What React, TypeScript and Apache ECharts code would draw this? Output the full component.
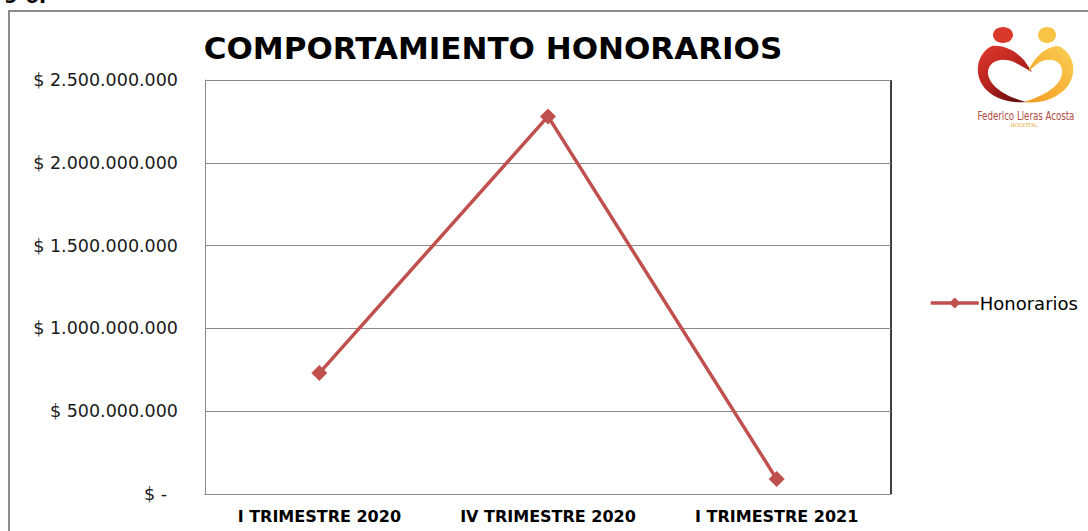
import React, { useEffect, useRef } from "react";
import * as echarts from "echarts";

const categories = ["I TRIMESTRE 2020", "IV TRIMESTRE 2020", "I TRIMESTRE 2021"];
const honorarios = [730000000, 2280000000, 90000000];
const seriesName = "Honorarios";
const titleText = "COMPORTAMIENTO HONORARIOS";
const yMin = 0;
const yMax = 2500000000;
const yInterval = 500000000;

const redPath =
  "M 992 46 C 975 54 972 80 990 93 C 1000 101 1015 103 1026 102 C 1010 98 990 88 988 74 C 987 62 1000 56 1014 62 L 1032 72 L 1024 60 C 1015 50 1003 45 992 46 Z";
const yellowPath =
  "M 1058 46 C 1075 52 1080 78 1062 92 C 1052 100 1038 104 1024 102 C 1040 97 1060 88 1062 74 C 1064 62 1052 56 1040 62 C 1034 66 1030 70 1028 72 C 1032 62 1042 47 1058 46 Z";

let registered = false;
function registerShapes() {
  if (registered) return;
  echarts.graphic.registerShape("logoRed", echarts.graphic.extendPath(redPath, {}) as any);
  echarts.graphic.registerShape("logoYellow", echarts.graphic.extendPath(yellowPath, {}) as any);
  registered = true;
}

function fmtMoney(v: number): string {
  if (v === 0) return "{z|$ -}";
  const s = Math.round(v).toString().replace(/\B(?=(\d{3})+(?!\d))/g, ".");
  return "$ " + s;
}

export default function App() {
  const ref = useRef<HTMLDivElement>(null);
  useEffect(() => {
    if (!ref.current) return;
    registerShapes();
    const chart = echarts.init(ref.current, null, { renderer: "svg" });
    const font = "DejaVu Sans";
    chart.setOption({
      animation: false,
      backgroundColor: "#ffffff",
      title: {
        text: titleText,
        left: 488,
        top: 27,
        textAlign: "center",
        textStyle: { fontFamily: font, fontWeight: "bold", fontSize: 31, color: "#000000" },
      },
      legend: {
        data: [seriesName],
        left: 924,
        top: 289,
        itemWidth: 48,
        itemHeight: 14,
        itemGap: 4,
        lineStyle: { width: 3.5 },
        textStyle: { fontFamily: font, fontSize: 18, color: "#000000", padding: [0, 0, 0, -4] },
      },
      grid: { left: 205, right: 197, top: 80, bottom: 37, containLabel: false },
      xAxis: {
        type: "category",
        data: categories,
        boundaryGap: true,
        axisLine: { show: true, lineStyle: { color: "#8a8a8a", width: 1 } },
        axisTick: { show: false },
        axisLabel: {
          interval: 0,
          hideOverlap: false,
          margin: 14,
          fontFamily: font,
          fontWeight: "bold",
          fontSize: 16,
          color: "#000000",
        },
      },
      yAxis: {
        type: "value",
        min: yMin,
        max: yMax,
        interval: yInterval,
        axisLine: { show: true, lineStyle: { color: "#8a8a8a", width: 1 } },
        axisTick: { show: false },
        splitLine: { show: true, lineStyle: { color: "#8a8a8a", width: 1 } },
        axisLabel: {
          margin: 27,
          fontFamily: font,
          fontSize: 17.5,
          color: "#1a1a1a",
          formatter: fmtMoney,
          rich: { z: { fontFamily: font, fontSize: 17.5, color: "#1a1a1a", padding: [0, 11, 0, 0] } },
        },
      },
      series: [
        {
          name: seriesName,
          type: "line",
          data: honorarios,
          symbol: "diamond",
          symbolSize: 16,
          lineStyle: { color: "#C0504D", width: 3.5 },
          itemStyle: { color: "#C0504D" },
        },
      ],
      graphic: [
        {
          type: "rect",
          shape: { x: 9, y: 11, width: 1200, height: 700 },
          style: { fill: "none", stroke: "#8c8c8c", lineWidth: 2 },
          silent: true,
        },
        {
          type: "line",
          shape: { x1: 891, y1: 80, x2: 891, y2: 494 },
          style: { stroke: "#000000", lineWidth: 1.5 },
          silent: true,
        },
        {
          type: "text",
          x: 4,
          y: -14,
          style: { text: "9 6.", fontFamily: font, fontWeight: "bold", fontSize: 20, fill: "#000000" },
          silent: true,
        },
        {
          type: "logoRed",
          x: 0,
          y: 0,
          style: {
            fill: new echarts.graphic.LinearGradient(0, 0, 0.6, 1, [
              { offset: 0, color: "#e03a2c" },
              { offset: 0.6, color: "#b5221f" },
              { offset: 1, color: "#6e1212" },
            ]),
          },
          silent: true,
        },
        {
          type: "logoYellow",
          x: 0,
          y: 0,
          style: {
            fill: new echarts.graphic.LinearGradient(1, 0, 0, 1, [
              { offset: 0, color: "#fbcf55" },
              { offset: 1, color: "#f29a1f" },
            ]),
          },
          silent: true,
        },
        {
          type: "ellipse",
          shape: { cx: 1003, cy: 35, rx: 10, ry: 8 },
          style: { fill: "#d8392a" },
          silent: true,
        },
        {
          type: "ellipse",
          shape: { cx: 1047, cy: 35, rx: 9, ry: 8 },
          style: { fill: "#f8c445" },
          silent: true,
        },
        {
          type: "text",
          x: 1026,
          y: 115,
          scaleX: 0.72,
          style: {
            text: "Federico Lleras Acosta",
            fontFamily: "DejaVu Sans",
            fontSize: 12,
            fill: "#b04a42",
            align: "center",
            verticalAlign: "middle",
          },
          silent: true,
        },
        {
          type: "text",
          x: 1024,
          y: 125,
          style: {
            text: "HOSPITAL",
            fontFamily: "DejaVu Serif",
            fontSize: 5,
            fill: "#e8a030",
            align: "center",
            verticalAlign: "middle",
          },
          silent: true,
        },
      ],
    });
    return () => chart.dispose();
  }, []);
  return (
    <div
      ref={ref}
      style={{ position: "fixed", left: 0, top: 0, width: 1088, height: 531 }}
    />
  );
}
